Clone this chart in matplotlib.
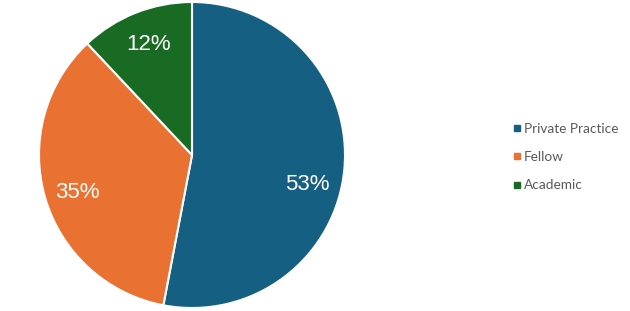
import matplotlib
matplotlib.use("Agg")
import matplotlib.pyplot as plt
from matplotlib.lines import Line2D

# data
labels = ["Private Practice", "Fellow", "Academic"]
shares = [53, 35, 12]
colors = ["#156082", "#E97132", "#196B24"]

fig = plt.figure(figsize=(6.3, 3.11), dpi=100)
ax = fig.add_axes([39 / 630, 3 / 311, 306 / 630, 306 / 311])

wedges, texts, autotexts = ax.pie(
    shares, colors=colors, startangle=90, counterclock=False,
    autopct=lambda p: "%d%%" % round(p), pctdistance=0.78,
    wedgeprops=dict(edgecolor="white", linewidth=1.5),
    textprops=dict(color="white", fontsize=16, family="Liberation Sans"),
)
# nudge labels a little, as in the original
x, y = autotexts[0].get_position()
autotexts[0].set_position((x - 0.02, y - 0.12))
x, y = autotexts[1].get_position()
autotexts[1].set_position((x, y - 0.03))
ax.set_aspect("equal")
ax.set_xlim(-1, 1)
ax.set_ylim(-1, 1)

handles = [Line2D([], [], marker="s", linestyle="none", markersize=5,
                  markerfacecolor=c, markeredgecolor=c) for c in colors]
leg = fig.legend(handles, labels, loc="center left", bbox_to_anchor=(0.79, 0.495),
                 frameon=False, handletextpad=0.0, handlelength=1.0,
                 labelspacing=1.2, prop=dict(family="Lato", size=9.8))
for t in leg.get_texts():
    t.set_color("#595959")

fig.savefig("out.png", dpi=100)
